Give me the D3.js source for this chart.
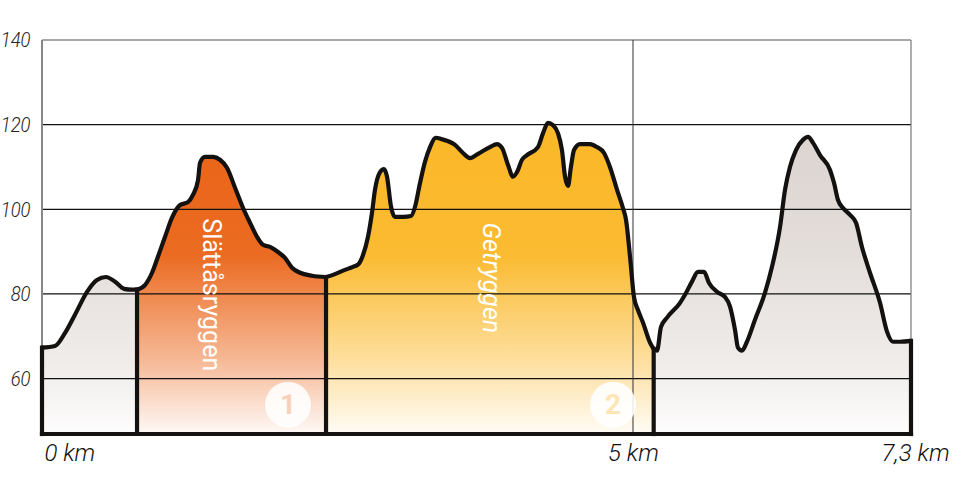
<!DOCTYPE html>
<html>
<head>
<meta charset="utf-8">
<script src="https://cdn.jsdelivr.net/npm/d3@7"></script>
<style>
  html, body { margin: 0; padding: 0; background: #fff; }
  svg { display: block; }
</style>
</head>
<body>
<svg id="chart" width="972" height="490"></svg>
<script>
// ---- data: [distance km, elevation m] ----
const segStart = [[0,67.3],[0.110,67.7],[0.195,70.8],[0.279,75.1],[0.381,80.5],[0.465,83.3],[0.541,84.0],[0.618,82.9],[0.694,81.2],[0.761,81.0],[0.804,81.0]];
const segSlattas = [[0.804,81.0],[0.871,82.1],[0.931,85.0],[0.981,88.8],[1.041,93.5],[1.100,98.0],[1.168,101.0],[1.235,101.7],[1.277,103.4],[1.320,106.9],[1.337,111.0],[1.379,112.4],[1.447,112.4],[1.506,111.7],[1.565,109.8],[1.633,105.1],[1.701,100.3],[1.760,96.8],[1.819,93.5],[1.870,91.6],[1.929,91.1],[1.997,89.9],[2.056,88.5],[2.115,86.2],[2.183,85.0],[2.284,84.3],[2.403,84.0]];
const segGetryggen = [[2.403,84.0],[2.462,84.5],[2.547,85.5],[2.631,86.4],[2.673,86.9],[2.716,89.2],[2.758,93.5],[2.792,99.2],[2.817,104.6],[2.860,108.8],[2.893,109.5],[2.919,107.7],[2.953,100.6],[2.986,98.2],[3.054,98.2],[3.122,98.4],[3.156,100.6],[3.198,106.2],[3.240,111.2],[3.283,114.7],[3.333,116.9],[3.376,116.6],[3.494,115.2],[3.562,113.3],[3.621,112.1],[3.689,113.1],[3.790,114.7],[3.849,115.4],[3.892,114.5],[3.942,110.5],[3.985,107.7],[4.019,108.8],[4.061,111.7],[4.103,112.8],[4.196,114.7],[4.239,118.0],[4.281,120.4],[4.323,119.9],[4.365,118.0],[4.399,114.0],[4.425,107.7],[4.450,105.5],[4.475,110.0],[4.501,114.0],[4.552,115.4],[4.636,115.4],[4.695,114.7],[4.755,113.3],[4.805,110.0],[4.865,104.6],[4.915,100.3],[4.941,97.5],[4.975,88.8],[5.008,79.3],[5.042,76.2],[5.085,73.2],[5.144,68.5],[5.175,67.0]];
const segEnd = [[5.175,67.0],[5.203,66.6],[5.237,72.2],[5.288,74.4],[5.398,77.9],[5.440,79.8],[5.499,82.9],[5.550,85.2],[5.601,85.2],[5.643,82.6],[5.711,80.5],[5.778,79.3],[5.821,77.0],[5.863,71.5],[5.888,67.3],[5.922,66.6],[5.964,68.7],[6.032,73.9],[6.117,80.3],[6.176,86.4],[6.244,95.8],[6.286,104.6],[6.328,110.0],[6.379,114.0],[6.438,116.4],[6.481,117.1],[6.523,115.7],[6.582,112.8],[6.667,109.3],[6.701,106.2],[6.734,102.2],[6.777,100.3],[6.836,98.7],[6.887,96.8],[6.937,91.1],[7.005,85.0],[7.090,77.9],[7.149,71.1],[7.200,68.7],[7.259,68.7],[7.352,68.9]];

const segNames = ["", "Slättåsryggen", "Getryggen", ""];
const segColors = ["#DCD5D1", "#EA6519", "#FBB829", "#DCD5D1"];
const segLabelPos = [null, [1.438, 79.8], [3.807, 83.8], null];
const markerLabels = ["1", "2"];
const markerPos = [[2.081, 53.8], [4.831, 53.8]];
const markerTextColors = ["#F8D2B8", "#FDE5B6"];

const yTicks = [60, 80, 100, 120, 140];
const xTicks = [0, 5, 7.352];
const xTickLabels = ["0 km", "5 km", "7,3 km"];

// ---- layout ----
const svg = d3.select("#chart");
const x = d3.scaleLinear().domain([0, 7.352]).range([42, 911]);
const y = d3.scaleLinear().domain([46.9, 140]).range([434, 40]);
const yMin = y.domain()[0];

const segments = [segStart, segSlattas, segGetryggen, segEnd];
const defs = svg.append("defs");
segments.forEach((s, i) => {
  const g = defs.append("linearGradient")
    .attr("id", "grad" + i)
    .attr("gradientUnits", "userSpaceOnUse")
    .attr("x1", 0).attr("x2", 0)
    .attr("y1", y(115)).attr("y2", y(yMin));
  const c = d3.color(segColors[i]);
  const gray = i === 0 || i === 3;
  g.append("stop").attr("offset", 0).attr("stop-color", c);
  g.append("stop").attr("offset", gray ? 0.35 : 0.38).attr("stop-color", d3.interpolateRgb(c, "#fff")(gray ? 0.2 : 0.04));
  g.append("stop").attr("offset", 0.75).attr("stop-color", d3.interpolateRgb(c, "#fff")(0.55));
  g.append("stop").attr("offset", 1).attr("stop-color", d3.interpolateRgb(c, "#fff")(0.96));
});

const curve = d3.curveMonotoneX;
const area = d3.area().x(d => x(d[0])).y0(y(yMin)).y1(d => y(d[1])).curve(curve);
const line = d3.line().x(d => x(d[0])).y(d => y(d[1])).curve(curve);

// fills
segments.forEach((s, i) => {
  svg.append("path").attr("d", area(s)).attr("fill", `url(#grad${i})`);
});

// grid
const grid = svg.append("g");
yTicks.forEach(t => {
  grid.append("line")
    .attr("x1", x(0)).attr("x2", x(7.352))
    .attr("y1", y(t)).attr("y2", y(t))
    .attr("stroke", t === 140 ? "#555" : "#111").attr("stroke-width", 1.2);
});
grid.append("line").attr("x1", x(5)).attr("x2", x(5)).attr("y1", y(140)).attr("y2", y(yMin))
  .attr("stroke", "#333").attr("stroke-width", 1);
grid.append("line").attr("x1", x(7.352)).attr("x2", x(7.352)).attr("y1", y(140)).attr("y2", y(yMin))
  .attr("stroke", "#777").attr("stroke-width", 1.2);
grid.append("line").attr("x1", x(0)).attr("x2", x(0)).attr("y1", y(140)).attr("y2", y(yMin))
  .attr("stroke", "#888").attr("stroke-width", 2);

// y labels
const yAxis = d3.axisLeft(y).tickValues(yTicks).tickSize(0).tickPadding(12);
const ya = svg.append("g").attr("transform", `translate(${x(0)},0)`).call(yAxis);
ya.select(".domain").remove();
ya.selectAll("text")
  .attr("font-family", "Roboto").attr("font-style", "italic").attr("font-weight", 300)
  .attr("font-size", 21).attr("fill", "#222")
  .attr("transform", "scale(0.88,1)").attr("x", -13);

// x labels
const xAxis = d3.axisBottom(x).tickValues(xTicks).tickFormat((d, i) => xTickLabels[i]).tickSize(0).tickPadding(10);
const xa = svg.append("g").attr("transform", `translate(0,${y(yMin)})`).call(xAxis);
xa.select(".domain").remove();
xa.selectAll("text")
  .attr("font-family", "Roboto").attr("font-style", "italic").attr("font-weight", 300)
  .attr("font-size", 24).attr("fill", "#111")
  .attr("text-anchor", (d, i) => i === 0 ? "start" : "middle")
  .attr("dx", (d, i) => i === 0 ? 2 : (i === 2 ? 4 : 0));

// profile outline
const stroke = "#141210";
segments.forEach(s => {
  svg.append("path").attr("d", line(s)).attr("fill", "none")
    .attr("stroke", stroke).attr("stroke-width", 4.2).attr("stroke-linejoin", "round").attr("stroke-linecap", "round");
});
// separators
const seps = [segStart[0], segSlattas[0], segGetryggen[0], segEnd[0], segEnd[segEnd.length - 1]];
seps.forEach(p => {
  svg.append("line").attr("x1", x(p[0])).attr("x2", x(p[0]))
    .attr("y1", y(p[1])).attr("y2", y(yMin))
    .attr("stroke", stroke).attr("stroke-width", 4.2).attr("stroke-linecap", "square");
});
svg.append("line").attr("x1", x(0)).attr("x2", x(7.352)).attr("y1", y(yMin)).attr("y2", y(yMin))
  .attr("stroke", stroke).attr("stroke-width", 4.2).attr("stroke-linecap", "square");

// segment names
segNames.forEach((n, i) => {
  if (!n) return;
  const p = segLabelPos[i];
  svg.append("text")
    .attr("transform", `translate(${x(p[0])},${y(p[1])}) rotate(90)`)
    .attr("text-anchor", "middle").attr("dominant-baseline", "central")
    .attr("font-family", "Roboto").attr("font-size", 25).attr("font-style", i === 2 ? "italic" : "normal")
    .attr("fill", "#fff").text(n);
});

// markers
markerLabels.forEach((m, i) => {
  const p = markerPos[i];
  svg.append("circle").attr("cx", x(p[0])).attr("cy", y(p[1])).attr("r", 23)
    .attr("fill", "#fff").attr("fill-opacity", 0.88);
  svg.append("text").attr("x", x(p[0])).attr("y", y(p[1]))
    .attr("text-anchor", "middle").attr("dominant-baseline", "central")
    .attr("font-family", "Roboto").attr("font-weight", 700).attr("font-size", 28)
    .attr("fill", markerTextColors[i]).text(m);
});
</script>
</body>
</html>
